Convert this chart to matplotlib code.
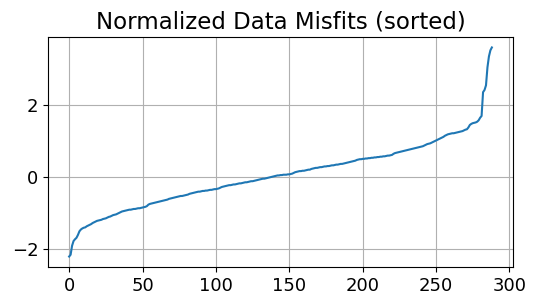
import numpy as np
import matplotlib
matplotlib.use('Agg')
import matplotlib.pyplot as plt

# sorted normalized misfits (289 values)
misfits = [
    -2.20, -2.15, -1.90, -1.77, -1.72, -1.68, -1.60, -1.50, -1.45, -1.42,
    -1.40, -1.39, -1.36, -1.34, -1.32, -1.30, -1.27, -1.25, -1.23, -1.21,
    -1.20, -1.19, -1.18, -1.16, -1.15, -1.14, -1.12, -1.10, -1.09, -1.07,
    -1.05, -1.04, -1.03, -1.01, -0.99, -0.97, -0.95, -0.94, -0.93, -0.92,
    -0.91, -0.90, -0.90, -0.89, -0.88, -0.88, -0.87, -0.86, -0.86, -0.85,
    -0.84, -0.83, -0.82, -0.80, -0.76, -0.74, -0.73, -0.72, -0.71, -0.70,
    -0.69, -0.68, -0.67, -0.66, -0.65, -0.64, -0.63, -0.62, -0.60, -0.59,
    -0.58, -0.57, -0.56, -0.55, -0.54, -0.53, -0.52, -0.52, -0.51, -0.50,
    -0.49, -0.48, -0.46, -0.45, -0.44, -0.43, -0.42, -0.41, -0.40, -0.40,
    -0.39, -0.38, -0.38, -0.37, -0.37, -0.36, -0.35, -0.35, -0.34, -0.33,
    -0.33, -0.32, -0.31, -0.29, -0.27, -0.26, -0.25, -0.24, -0.23, -0.22,
    -0.22, -0.21, -0.20, -0.20, -0.19, -0.18, -0.17, -0.17, -0.16, -0.15,
    -0.14, -0.14, -0.13, -0.12, -0.11, -0.11, -0.10, -0.09, -0.08, -0.07,
    -0.06, -0.05, -0.04, -0.04, -0.03, -0.02, -0.01, 0.00, 0.01, 0.02,
    0.03, 0.04, 0.05, 0.05, 0.06, 0.06, 0.07, 0.07, 0.07, 0.08,
    0.08, 0.09, 0.10, 0.12, 0.14, 0.15, 0.16, 0.17, 0.17, 0.18,
    0.18, 0.19, 0.20, 0.21, 0.21, 0.23, 0.24, 0.25, 0.26, 0.26,
    0.27, 0.28, 0.28, 0.29, 0.30, 0.30, 0.31, 0.31, 0.32, 0.33,
    0.33, 0.34, 0.35, 0.35, 0.36, 0.37, 0.37, 0.38, 0.39, 0.40,
    0.41, 0.42, 0.43, 0.44, 0.45, 0.46, 0.48, 0.49, 0.50, 0.50,
    0.51, 0.51, 0.52, 0.52, 0.53, 0.53, 0.54, 0.54, 0.55, 0.55,
    0.56, 0.56, 0.57, 0.57, 0.58, 0.58, 0.59, 0.60, 0.60, 0.61,
    0.62, 0.65, 0.67, 0.68, 0.69, 0.70, 0.71, 0.72, 0.73, 0.74,
    0.75, 0.76, 0.77, 0.78, 0.79, 0.80, 0.81, 0.82, 0.83, 0.84,
    0.85, 0.86, 0.88, 0.90, 0.92, 0.93, 0.94, 0.96, 0.98, 1.00,
    1.02, 1.04, 1.06, 1.08, 1.10, 1.12, 1.15, 1.17, 1.19, 1.20,
    1.21, 1.22, 1.22, 1.23, 1.24, 1.25, 1.26, 1.27, 1.28, 1.30,
    1.32, 1.33, 1.38, 1.45, 1.48, 1.50, 1.51, 1.52, 1.54, 1.58,
    1.65, 1.70, 2.36, 2.42, 2.55, 3.05, 3.35, 3.52, 3.60,
]

fig = plt.figure(figsize=(5.38, 3.06), dpi=100)
ax = fig.add_axes([48/538, 1 - 267/306, (513 - 48)/538, (267 - 37)/306])
ax.plot(misfits, color='C0', lw=1.5)
ax.grid(True)
ax.set_title('Normalized Data Misfits (sorted)', fontsize=16.5)
ax.tick_params(labelsize=13)

fig.savefig('out.png', dpi=100)
